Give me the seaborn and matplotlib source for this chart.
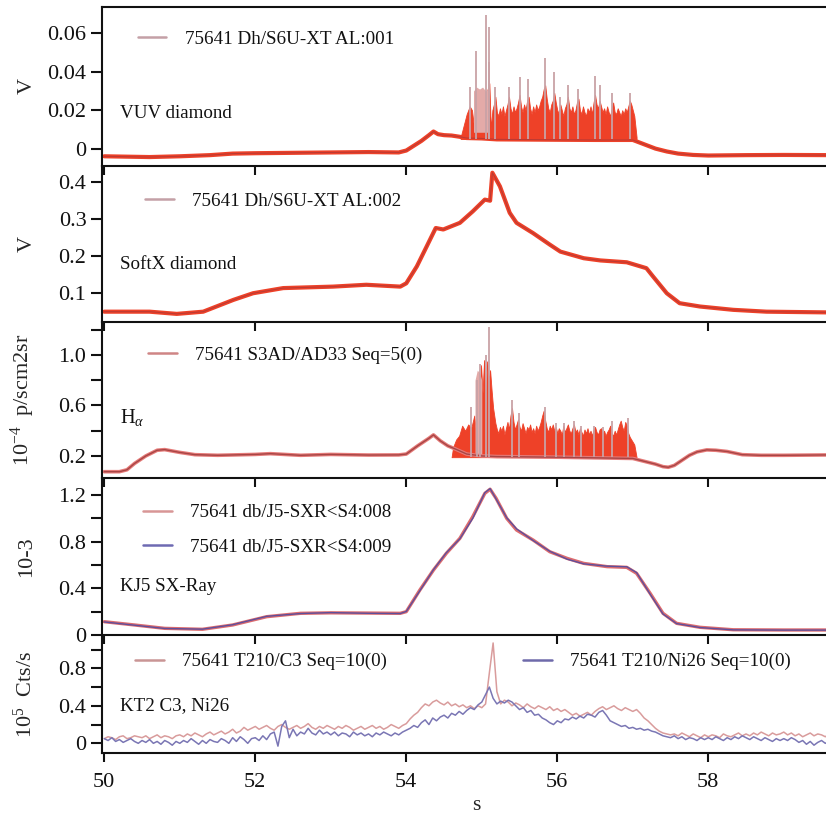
import numpy as np
import seaborn as sns
import matplotlib
matplotlib.use("Agg")
import matplotlib.pyplot as plt
from matplotlib.lines import Line2D
from matplotlib.ticker import FixedLocator

# ---------------- shot 75641 signals ----------------
# VUV diamond (V): slow baseline / lower edge of the ELM band
vuv_t = [50.0, 50.3, 50.6, 51.0, 51.4, 51.7, 52.0, 52.5, 53.0, 53.5, 53.9, 54.0, 54.1, 54.2,
         54.3, 54.36, 54.42, 54.5, 54.6, 54.7, 54.8, 55.0, 55.2, 55.6, 56.0, 56.5, 57.0, 57.1,
         57.2, 57.3, 57.45, 57.6, 57.8, 58.0, 58.5, 59.0, 59.6]
vuv_v = [-0.0040, -0.0042, -0.0044, -0.0040, -0.0034, -0.0026, -0.0024, -0.0022, -0.0020,
         -0.0018, -0.0020, -0.0010, 0.0015, 0.0040, 0.0070, 0.0089, 0.0075, 0.0070, 0.0068,
         0.0062, 0.0055, 0.0053, 0.0048, 0.0047, 0.0046, 0.0045, 0.0045, 0.0030, 0.0015,
         0.0000, -0.0015, -0.0026, -0.0033, -0.0036, -0.0034, -0.0033, -0.0034]
# upper edge of the dense ELM band: onset, then 20 ms samples from 55.14 s, then the end
vuv_band_head_t = [54.72, 54.76, 54.80, 54.84, 54.87, 54.90, 55.07, 55.10, 55.12]
vuv_band_head = [0.006, 0.012, 0.018, 0.022, 0.020, 0.010, 0.030, 0.034, 0.010]
vuv_band_body = [20, 23, 27, 19, 17, 21, 18, 22, 17, 20,
                 23, 27, 21, 18, 22, 19, 21, 24, 28, 22,
                 19, 23, 20, 25, 27, 21, 18, 22, 19, 23,
                 20, 22, 25, 27, 31, 33, 26, 21, 19, 23,
                 25, 29, 24, 20, 18, 23, 20, 17, 21, 23,
                 27, 21, 19, 22, 18, 20, 24, 26, 20, 18,
                 22, 19, 17, 21, 19, 22, 18, 24, 28, 23,
                 21, 25, 22, 19, 21, 18, 22, 19, 17, 21,
                 24, 19, 18, 21, 19, 17, 20, 18, 21, 19,
                 22, 25, 23, 20, 17]  # 1e-3 V
vuv_band_tail_t = [57.05]
vuv_band_tail = [0.006]
vuv_band_floor = 0.005
# individual ELM spikes
vuv_spike_t = [54.84, 54.92, 55.06, 55.09, 55.10, 55.18, 55.36, 55.51, 55.61, 55.84, 55.96,
               56.04, 56.14, 56.27, 56.50, 56.56, 56.73, 56.96]
vuv_spike_v = [0.032, 0.051, 0.0696, 0.045, 0.0635, 0.032, 0.032, 0.0375, 0.036, 0.047,
               0.040, 0.027, 0.033, 0.031, 0.038, 0.033, 0.029, 0.029]
# burst of overlapping ELMs
vuv_burst_t = [54.89, 54.93, 54.97, 55.01, 55.05, 55.08]
vuv_burst_top = [0.030, 0.032, 0.031, 0.032, 0.030, 0.031]
vuv_burst_floor = 0.0085

# SoftX diamond (V)
sxd_t = [50.0, 50.6, 50.96, 51.31, 51.71, 51.97, 52.37, 53.03, 53.47, 53.92, 54.0, 54.14,
         54.27, 54.39, 54.49, 54.71, 54.88, 55.04, 55.11, 55.14, 55.24, 55.37, 55.46, 55.68,
         55.9, 56.04, 56.35, 56.57, 56.92, 57.18, 57.27, 57.45, 57.62, 57.89, 58.33, 58.77,
         59.6]
sxd_v = [0.048, 0.048, 0.042, 0.048, 0.080, 0.098, 0.112, 0.116, 0.121, 0.116, 0.125, 0.171,
         0.225, 0.275, 0.271, 0.289, 0.320, 0.352, 0.349, 0.425, 0.388, 0.316, 0.289, 0.261,
         0.230, 0.211, 0.193, 0.187, 0.182, 0.166, 0.143, 0.098, 0.071, 0.062, 0.053, 0.048,
         0.046]

# H-alpha (1e-4 p/scm2sr)
ha_t = [50.0, 50.2, 50.3, 50.4, 50.55, 50.7, 50.8, 51.0, 51.2, 51.5, 52.0, 52.2, 52.6, 53.0,
        53.5, 53.9, 54.0, 54.15, 54.3, 54.36, 54.45, 54.55, 54.65, 54.8, 55.0, 55.2, 56.0,
        56.5, 57.0, 57.1, 57.2, 57.3, 57.4, 57.47, 57.55, 57.65, 57.75, 57.85, 57.98, 58.1,
        58.25, 58.45, 58.7, 59.0, 59.6]
ha_v = [0.075, 0.075, 0.09, 0.14, 0.20, 0.245, 0.25, 0.228, 0.21, 0.205, 0.212, 0.218, 0.205,
        0.212, 0.207, 0.208, 0.215, 0.28, 0.34, 0.367, 0.32, 0.28, 0.255, 0.215, 0.20, 0.195,
        0.19, 0.185, 0.18, 0.165, 0.15, 0.135, 0.115, 0.11, 0.125, 0.165, 0.205, 0.232, 0.248,
        0.245, 0.235, 0.21, 0.205, 0.205, 0.208]
ha_band_head_t = [54.60, 54.62, 54.66, 54.70, 54.74, 54.78, 54.82, 54.86, 54.90, 54.92, 54.95,
                  54.97, 54.99, 55.01, 55.03, 55.05, 55.07, 55.09, 55.11, 55.13, 55.15]
ha_band_head = [0.19, 0.27, 0.33, 0.36, 0.44, 0.40, 0.45, 0.42, 0.52, 0.40, 0.75, 0.55, 0.92,
                0.70, 0.96, 0.60, 0.95, 0.80, 0.88, 0.72, 0.58]
ha_band_body = [46, 41, 38, 43, 40, 44, 37, 42, 47, 41,
                52, 58, 47, 41, 45, 49, 43, 40, 46, 42,
                38, 43, 41, 45, 39, 42, 38, 44, 40, 43,
                47, 52, 56, 48, 42, 39, 44, 41, 45, 40,
                43, 38, 42, 40, 37, 44, 39, 42, 45, 40,
                38, 42, 45, 39, 41, 37, 42, 39, 36, 41,
                38, 42, 37, 40, 36, 41, 43, 39, 37, 41,
                42, 38, 40, 36, 39, 41, 44, 38, 36, 40,
                37, 41, 45, 48, 43, 40, 47, 44, 38, 35,
                33, 31, 29]  # 1e-2 x 1e-4 p/scm2sr, 20 ms samples from 55.18 s
ha_band_tail_t = [57.05]
ha_band_tail = [0.19]
ha_band_floor = 0.19
ha_spike_t = [54.86, 54.93, 54.98, 55.06, 55.10, 55.40, 55.49, 55.84, 55.98, 56.09, 56.22,
              56.32, 56.48, 56.61, 56.72, 56.94]
ha_spike_v = [0.585, 0.80, 0.93, 1.00, 1.22, 0.64, 0.54, 0.585, 0.46, 0.46, 0.475, 0.44,
              0.44, 0.43, 0.475, 0.50]
ha_burst_t = [54.91, 54.94, 54.97, 55.00]
ha_burst_top = [0.80, 0.88, 0.86, 0.80]
ha_burst_floor = 0.20

# KJ5 soft X-ray (1e-3), channels 008 and 009
kj5_t = [50.0, 50.4, 50.8, 51.3, 51.7, 52.15, 52.6, 53.0, 53.5, 53.92, 54.0, 54.18, 54.36,
         54.53, 54.71, 54.88, 55.04, 55.11, 55.19, 55.33, 55.46, 55.68, 55.9, 56.13, 56.35,
         56.66, 56.92, 57.05, 57.23, 57.4, 57.58, 57.89, 58.33, 59.0, 59.6]
kj5_008 = [0.114, 0.086, 0.057, 0.049, 0.086, 0.157, 0.186, 0.190, 0.188, 0.186, 0.200,
           0.386, 0.557, 0.700, 0.829, 1.014, 1.214, 1.250, 1.171, 1.000, 0.900, 0.814,
           0.714, 0.657, 0.614, 0.586, 0.580, 0.529, 0.357, 0.186, 0.100, 0.066, 0.045,
           0.043, 0.043]
kj5_009 = [0.112, 0.084, 0.056, 0.050, 0.088, 0.160, 0.184, 0.192, 0.186, 0.184, 0.202,
           0.380, 0.560, 0.705, 0.825, 1.000, 1.220, 1.255, 1.165, 1.005, 0.910, 0.810,
           0.718, 0.650, 0.610, 0.590, 0.585, 0.535, 0.350, 0.180, 0.098, 0.064, 0.044,
           0.042, 0.042]

# KT2 VUV spectrometer lines (1e5 Cts/s), sampled every 50 ms from 50.00 s
kt2_c3 = [0.05, 0.07, 0.06, 0.04, 0.07, 0.08, 0.05, 0.06, 0.08, 0.07,
          0.06, 0.08, 0.05, 0.07, 0.09, 0.06, 0.08, 0.07, 0.05, 0.08,
          0.09, 0.07, 0.10, 0.08, 0.11, 0.09, 0.07, 0.10, 0.12, 0.09,
          0.11, 0.13, 0.10, 0.12, 0.15, 0.11, 0.13, 0.17, 0.14, 0.16,
          0.18, 0.15, 0.17, 0.19, 0.16, 0.14, 0.18, 0.20, 0.17, 0.15,
          0.17, 0.19, 0.16, 0.18, 0.21, 0.17, 0.15, 0.18, 0.16, 0.19,
          0.17, 0.15, 0.18, 0.16, 0.19, 0.17, 0.14, 0.16, 0.18, 0.15,
          0.17, 0.19, 0.16, 0.18, 0.15, 0.17, 0.20, 0.18, 0.16, 0.19,
          0.21, 0.26, 0.30, 0.33, 0.38, 0.42, 0.40, 0.44, 0.46, 0.43,
          0.41, 0.44, 0.40, 0.42, 0.39, 0.41, 0.38, 0.40, 0.37, 0.40,
          0.38, 0.42, 0.75, 1.07, 0.55, 0.42, 0.46, 0.44, 0.40, 0.43,
          0.41, 0.38, 0.42, 0.39, 0.37, 0.40, 0.38, 0.36, 0.39, 0.35,
          0.37, 0.34, 0.36, 0.33, 0.30, 0.32, 0.29, 0.31, 0.33, 0.30,
          0.34, 0.37, 0.39, 0.36, 0.38, 0.40, 0.37, 0.35, 0.38, 0.36,
          0.34, 0.36, 0.32, 0.27, 0.24, 0.20, 0.16, 0.13, 0.11, 0.10,
          0.09, 0.10, 0.08, 0.11, 0.09, 0.07, 0.10, 0.08, 0.06, 0.09,
          0.07, 0.09, 0.08, 0.06, 0.10, 0.08, 0.07, 0.09, 0.11, 0.08,
          0.10, 0.08, 0.11, 0.09, 0.12, 0.10, 0.08, 0.11, 0.09, 0.10,
          0.12, 0.09, 0.11, 0.08, 0.10, 0.07, 0.09, 0.11, 0.08, 0.10,
          0.09, 0.07, 0.10, 0.08]
kt2_ni26 = [0.05, 0.03, 0.06, 0.02, 0.04, 0.01, 0.03, 0.05, 0.02, 0.00,
            0.03, 0.01, 0.04, 0.00, 0.02, -0.01, 0.03, 0.01, -0.02, 0.02,
            0.00, 0.03, 0.01, 0.05, 0.02, -0.01, 0.03, 0.00, 0.04, 0.02,
            0.01, 0.05, 0.03, 0.00, 0.06, 0.02, 0.07, 0.04, 0.00, 0.05,
            0.06, 0.03, 0.08, 0.04, 0.10, 0.12, -0.03, 0.18, 0.24, 0.06,
            0.15, 0.08, 0.12, 0.10, 0.16, 0.11, 0.09, 0.14, 0.10, 0.12,
            0.09, 0.12, 0.08, 0.11, 0.10, 0.07, 0.12, 0.09, 0.11, 0.08,
            0.10, 0.07, 0.11, 0.09, 0.12, 0.10, 0.08, 0.11, 0.09, 0.12,
            0.14, 0.16, 0.19, 0.17, 0.22, 0.25, 0.20, 0.27, 0.24, 0.28,
            0.30, 0.27, 0.32, 0.30, 0.34, 0.31, 0.35, 0.38, 0.36, 0.41,
            0.44, 0.52, 0.60, 0.48, 0.42, 0.45, 0.43, 0.46, 0.44, 0.40,
            0.36, 0.38, 0.33, 0.35, 0.30, 0.31, 0.27, 0.25, 0.22, 0.20,
            0.24, 0.22, 0.26, 0.25, 0.28, 0.26, 0.29, 0.27, 0.31, 0.30,
            0.28, 0.33, 0.35, 0.30, 0.24, 0.22, 0.20, 0.18, 0.19, 0.16,
            0.17, 0.15, 0.16, 0.14, 0.15, 0.13, 0.12, 0.10, 0.08, 0.07,
            0.06, 0.08, 0.05, 0.07, 0.04, 0.06, 0.05, 0.03, 0.06, 0.04,
            0.06, 0.04, 0.07, 0.05, 0.03, 0.06, 0.04, 0.07, 0.05, 0.08,
            0.06, 0.04, 0.07, 0.05, 0.03, 0.06, 0.04, 0.02, 0.05, 0.03,
            0.05, 0.03, 0.06, 0.04, 0.01, 0.03, -0.01, 0.02, -0.02, 0.01,
            0.03, 0.00, 0.02, 0.04]

# axis ticks and labels
x_ticks = [50, 52, 54, 56, 58]
x_tick_labels = ["50", "52", "54", "56", "58"]
vuv_ticks = [0.0, 0.02, 0.04, 0.06]
vuv_tick_labels = ["0", "0.02", "0.04", "0.06"]
sxd_ticks = [0.1, 0.2, 0.3, 0.4]
sxd_tick_labels = ["0.1", "0.2", "0.3", "0.4"]
ha_ticks = [0.2, 0.6, 1.0]
ha_tick_labels = ["0.2", "0.6", "1.0"]
ha_minor = [0.4, 0.8, 1.2]
kj5_ticks = [0.0, 0.4, 0.8, 1.2]
kj5_tick_labels = ["0", "0.4", "0.8", "1.2"]
kj5_minor = [0.2, 0.6, 1.0]
kt2_ticks = [0.0, 0.4, 0.8]
kt2_tick_labels = ["0", "0.4", "0.8"]
kt2_minor = [0.2, 0.6, 1.0]

# sample times of the regularly sampled pieces
kt2_t = np.round(50.0 + 0.05 * np.arange(len(kt2_c3)), 2)
vuv_band_t = vuv_band_head_t + list(np.round(55.14 + 0.02 * np.arange(len(vuv_band_body)), 2)) \
    + vuv_band_tail_t
vuv_band_top = vuv_band_head + [v * 1e-3 for v in vuv_band_body] + vuv_band_tail
ha_band_t = ha_band_head_t + list(np.round(55.18 + 0.02 * np.arange(len(ha_band_body)), 2)) \
    + ha_band_tail_t
ha_band_top = ha_band_head + [v * 1e-2 for v in ha_band_body] + ha_band_tail

# ---------------- style ----------------
sns.set_theme(style="ticks")
plt.rcParams["font.family"] = ["Liberation Serif", "DejaVu Serif"]
plt.rcParams["mathtext.fontset"] = "custom"
plt.rcParams["mathtext.rm"] = "Liberation Serif"
plt.rcParams["mathtext.it"] = "Liberation Serif:italic"
plt.rcParams["axes.linewidth"] = 1.5
plt.rcParams["axes.edgecolor"] = "#111111"

RED = "#ee4128"
CORE = "#a83838"
SPIKE = "#c9a2a6"
BURST = "#e3aaa8"
LEG_GREY = "#c4a0a6"
LEG_RED = "#cf8585"

LEG_FS = 13.7
TICK_FS = 16

fig = plt.figure(figsize=(8.26, 8.16), dpi=100)
W_PX, H_PX = 826.0, 816.0
left_px = 101.7
edges_px = [7, 165.7, 322, 478, 635, 752.7]
axes = []
for i in range(5):
    top, bot = edges_px[i], edges_px[i + 1]
    ax = fig.add_axes([left_px / W_PX, 1 - bot / H_PX, 1 - left_px / W_PX, (bot - top) / H_PX])
    ax.patch.set_visible(False)
    axes.append(ax)
ax1, ax2, ax3, ax4, ax5 = axes

XLIM = (49.9656, 59.559)


def style_axis(ax, yticks, ylabels, ylim, minor=None, show_top=False, bottom_labels=False):
    ax.set_xlim(*XLIM)
    ax.set_ylim(*ylim)
    ax.xaxis.set_major_locator(FixedLocator(x_ticks))
    ax.set_xticklabels(x_tick_labels if bottom_labels else [""] * len(x_ticks))
    ax.yaxis.set_major_locator(FixedLocator(yticks))
    ax.set_yticklabels(ylabels)
    if minor:
        ax.yaxis.set_minor_locator(FixedLocator(minor))
    ax.tick_params(axis="y", which="both", direction="out", length=8, width=1.5,
                   labelsize=TICK_FS, pad=3, colors="#111111")
    ax.tick_params(axis="x", which="both", direction="out", length=6.5, width=1.5,
                   labelsize=TICK_FS, pad=8, colors="#111111", labelbottom=bottom_labels)
    ax.spines["right"].set_visible(False)
    ax.spines["top"].set_visible(show_top)
    ax.set_xlabel("")
    ax.grid(False)


def legend(ax, labels, colors, x, y, spacing=0.9):
    handles = [Line2D([], [], color=c, lw=1.8) for c in colors]
    leg = ax.legend(handles, labels, loc="center left", bbox_to_anchor=(x, y),
                    frameon=False, borderpad=0, borderaxespad=0, handlelength=1.5,
                    handletextpad=0.95, labelspacing=spacing, fontsize=LEG_FS)
    for t in leg.get_texts():
        t.set_color("#111111")
    return leg


def trace(ax, t, v, color, lw, core=None, core_lw=0.8, alpha=1.0):
    sns.lineplot(x=t, y=v, ax=ax, color=color, lw=lw, alpha=alpha, legend=False,
                 estimator=None)
    if core is not None:
        sns.lineplot(x=t, y=v, ax=ax, color=core, lw=core_lw, alpha=0.7, legend=False,
                     estimator=None)


# ---- panel 1: VUV diamond ----
trace(ax1, vuv_t, vuv_v, RED, 3.0, CORE)
ax1.fill_between(vuv_band_t, vuv_band_floor, vuv_band_top, color=RED, lw=0.6, edgecolor=RED)
ax1.fill_between(vuv_burst_t, vuv_burst_floor, vuv_burst_top, color=BURST, lw=0)
ax1.vlines(vuv_spike_t, vuv_band_floor, vuv_spike_v, color=SPIKE, lw=1.3)
style_axis(ax1, vuv_ticks, vuv_tick_labels, (-0.0089, 0.0737), show_top=True)
ax1.set_ylabel("V", fontsize=16)
ax1.text(0.025, 0.332, "VUV diamond", transform=ax1.transAxes, fontsize=LEG_FS,
         va="center", ha="left", color="#111111")
legend(ax1, ["75641 Dh/S6U-XT AL:001"], [LEG_GREY], 0.050, 0.798)

# ---- panel 2: SoftX diamond ----
trace(ax2, sxd_t, sxd_v, RED, 3.0, CORE)
style_axis(ax2, sxd_ticks, sxd_tick_labels, (0.020, 0.444))
ax2.set_ylabel("V", fontsize=16)
ax2.text(0.025, 0.365, "SoftX diamond", transform=ax2.transAxes, fontsize=LEG_FS,
         va="center", ha="left", color="#111111")
legend(ax2, ["75641 Dh/S6U-XT AL:002"], [LEG_GREY], 0.060, 0.771)

# ---- panel 3: H-alpha ----
trace(ax3, ha_t, ha_v, "#e57a78", 2.6, "#8e2f30", 1.0)
ax3.fill_between(ha_band_t, ha_band_floor, ha_band_top, color=RED, lw=0.6, edgecolor=RED)
ax3.fill_between(ha_burst_t, ha_burst_floor, ha_burst_top, color=BURST, lw=0)
ax3.vlines(ha_spike_t, ha_band_floor, ha_spike_v, color=SPIKE, lw=1.3)
style_axis(ax3, ha_ticks, ha_tick_labels, (0.025, 1.262), minor=ha_minor)
ax3.set_ylabel(r"10$^{-4}$  p/scm2sr", fontsize=16)
ax3.text(0.025, 0.354, r"H$_\alpha$", transform=ax3.transAxes, fontsize=LEG_FS + 1,
         va="baseline", ha="left", color="#111111")
legend(ax3, ["75641 S3AD/AD33 Seq=5(0)"], [LEG_RED], 0.064, 0.788)

# ---- panel 4: KJ5 SX-ray ----
trace(ax4, kj5_t, kj5_008, "#dc6b6e", 2.4)
trace(ax4, kj5_t, kj5_009, "#5e4f9c", 1.0)
style_axis(ax4, kj5_ticks, kj5_tick_labels, (0.0, 1.346), minor=kj5_minor)
ax4.set_ylabel("10-3", fontsize=16)
ax4.text(0.025, 0.308, "KJ5 SX-Ray", transform=ax4.transAxes, fontsize=LEG_FS,
         va="center", ha="left", color="#111111")
legend(ax4, ["75641 db/J5-SXR<S4:008", "75641 db/J5-SXR<S4:009"],
       ["#d89696", "#6e6ab2"], 0.057, 0.669, spacing=0.92)

# ---- panel 5: KT2 C3, Ni26 ----
trace(ax5, kt2_t, kt2_c3, "#d99c9c", 1.1)
trace(ax5, kt2_t, kt2_ni26, "#7a76b4", 1.1)
style_axis(ax5, kt2_ticks, kt2_tick_labels, (-0.10, 1.155), minor=kt2_minor,
           bottom_labels=True)
ax5.set_ylabel(r"10$^{5}$  Cts/s", fontsize=16)
ax5.set_xlabel("s", fontsize=15.5)
ax5.xaxis.set_label_coords(0.517, -0.365)
ax5.text(0.025, 0.397, "KT2 C3, Ni26", transform=ax5.transAxes, fontsize=LEG_FS,
         va="center", ha="left", color="#111111")
leg_c3 = legend(ax5, ["75641 T210/C3 Seq=10(0)"], ["#c99595"], 0.046, 0.773)
ax5.add_artist(leg_c3)
legend(ax5, ["75641 T210/Ni26 Seq=10(0)"], ["#6e6aaa"], 0.582, 0.773)

for ax in axes:
    ax.yaxis.set_label_coords(-0.09, 0.5)

fig.savefig("out.png", dpi=100, facecolor="white")
